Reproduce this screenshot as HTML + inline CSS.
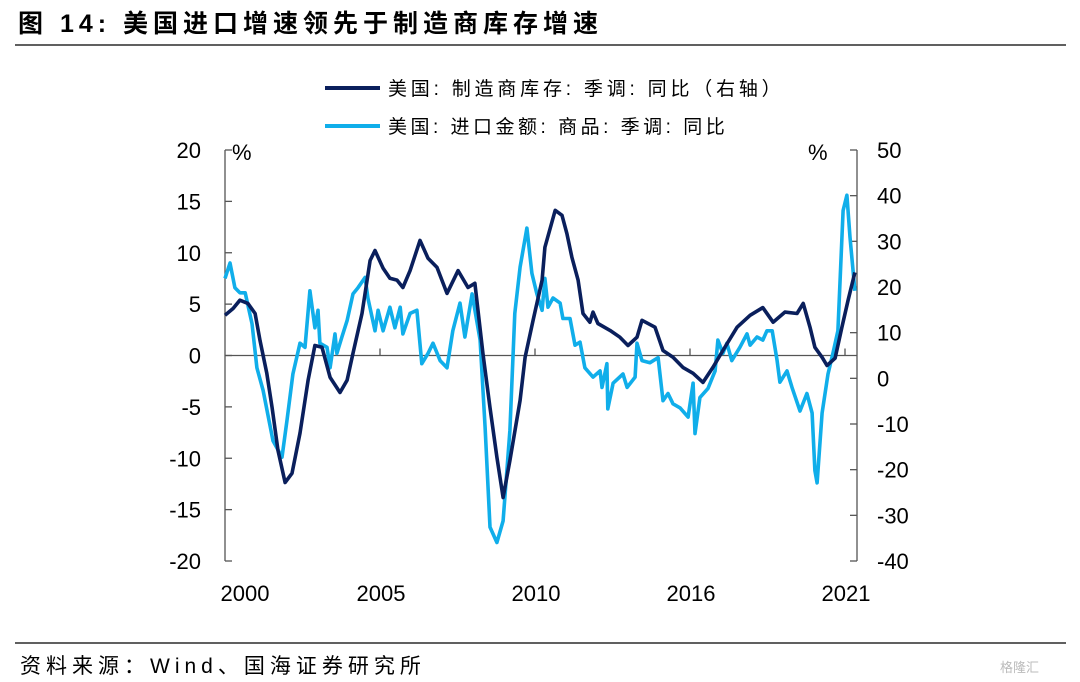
<!DOCTYPE html>
<html><head><meta charset="utf-8"><style>
body{margin:0;background:#fff;}
svg{display:block;font-family:"Liberation Sans","Noto Sans CJK SC",sans-serif;}
</style></head><body>
<svg id="chart" width="1080" height="682" viewBox="0 0 1080 682" xmlns="http://www.w3.org/2000/svg">
<text x="18" y="32" font-size="25" font-weight="bold" fill="#000" letter-spacing="5">图 14:  美国进口增速领先于制造商库存增速</text>
<line x1="15" y1="45" x2="1066" y2="45" stroke="#000" stroke-width="1.2"/>
<g>
<line x1="325" y1="88" x2="380" y2="88" stroke="#0a1f5c" stroke-width="4"/>
<text x="388" y="95" font-size="19" letter-spacing="3.8">美国: 制造商库存: 季调: 同比（右轴）</text>
<line x1="325" y1="126" x2="380" y2="126" stroke="#10aeea" stroke-width="4"/>
<text x="388" y="133" font-size="19" letter-spacing="3.5">美国: 进口金额: 商品: 季调: 同比</text>
</g>
<g id="axes"></g>
<g id="series"></g>
<line x1="15" y1="643" x2="1066" y2="643" stroke="#000" stroke-width="1.2"/>
<text x="20" y="673" font-size="21" letter-spacing="5">资料来源：Wind、国海证券研究所</text>
<text x="1000" y="672" font-size="13" fill="#bbb">格隆汇</text>
</svg>
<script>
const leftTicks=[20,15,10,5,0,-5,-10,-15,-20];
const rightTicks=[50,40,30,20,10,0,-10,-20,-30,-40];
const xTickYears=[2000,2005,2010,2015,2020];
const xTickLabels=["2000","2005","2010","2016","2021"];
const invDates=[2000.00,2000.26,2000.48,2000.74,2000.97,2001.13,2001.35,2001.52,2001.71,2001.94,2002.16,2002.42,2002.68,2002.90,2003.13,2003.39,2003.71,2003.94,2004.13,2004.42,2004.68,2004.84,2005.10,2005.32,2005.55,2005.74,2005.97,2006.29,2006.55,2006.84,2007.16,2007.52,2007.84,2008.06,2008.32,2008.55,2008.77,2008.97,2009.19,2009.52,2009.68,2009.94,2010.23,2010.32,2010.65,2010.87,2011.03,2011.19,2011.39,2011.55,2011.77,2011.87,2012.03,2012.42,2012.74,2013.00,2013.29,2013.45,2013.87,2014.13,2014.45,2014.77,2015.10,2015.42,2015.74,2016.06,2016.52,2016.94,2017.35,2017.68,2018.06,2018.45,2018.65,2018.87,2019.03,2019.26,2019.42,2019.68,2019.90,2020.10,2020.32];
const invValues=[13.8,15.3,17.1,16.4,14.2,8.3,1.1,-6.4,-15.8,-22.8,-20.8,-12.0,-0.4,7.2,6.8,0.2,-3.1,-0.4,5.5,14.2,25.8,28.0,24.1,21.9,21.5,19.9,23.6,30.2,26.3,24.3,18.6,23.6,19.9,20.8,5.5,-6.4,-17.3,-26.1,-18.0,-4.8,4.6,12.7,21.5,28.7,36.8,35.7,31.7,26.5,21.5,14.2,12.3,14.5,12.0,10.5,9.0,7.2,9.0,12.7,11.2,6.1,4.6,2.4,1.1,-0.9,2.4,6.1,11.2,13.8,15.5,12.3,14.5,14.2,16.4,11.2,6.8,4.6,2.8,4.4,11.2,17.1,23.2];
const impDates=[2000.00,2000.16,2000.32,2000.48,2000.65,2000.87,2001.03,2001.23,2001.55,2001.84,2002.00,2002.19,2002.42,2002.58,2002.74,2002.90,2003.00,2003.06,2003.29,2003.39,2003.55,2003.61,2003.77,2003.94,2004.13,2004.29,2004.52,2004.61,2004.84,2004.94,2005.10,2005.32,2005.48,2005.65,2005.74,2005.97,2006.19,2006.35,2006.55,2006.71,2006.94,2007.16,2007.35,2007.58,2007.74,2007.97,2008.23,2008.39,2008.55,2008.77,2008.97,2009.19,2009.35,2009.52,2009.74,2009.90,2010.06,2010.23,2010.32,2010.42,2010.58,2010.81,2010.90,2011.13,2011.29,2011.45,2011.61,2011.87,2012.10,2012.16,2012.32,2012.35,2012.52,2012.84,2012.97,2013.23,2013.29,2013.45,2013.71,2013.97,2014.13,2014.29,2014.45,2014.68,2014.94,2015.10,2015.16,2015.32,2015.58,2015.81,2015.90,2016.06,2016.19,2016.35,2016.61,2016.84,2016.94,2017.16,2017.35,2017.48,2017.65,2017.81,2017.90,2018.13,2018.29,2018.55,2018.77,2018.94,2019.03,2019.10,2019.26,2019.45,2019.61,2019.77,2019.94,2020.06,2020.16,2020.32];
const impValues=[7.5,9.0,6.6,6.1,6.1,3.1,-1.2,-3.4,-8.3,-9.9,-6.3,-1.8,1.2,0.8,6.3,2.7,4.4,1.2,0.8,-1.2,2.1,0.2,1.8,3.4,6.0,6.6,7.6,5.6,2.4,4.4,2.4,4.7,2.7,4.7,2.1,4.1,4.4,-0.8,0.2,1.2,-0.5,-1.2,2.4,5.1,1.8,6.0,1.5,-7.0,-16.7,-18.2,-16.1,-7.3,4.1,8.6,12.4,8.0,6.0,4.4,7.5,4.7,5.6,5.1,3.6,3.6,1.0,1.3,-1.2,-2.1,-1.5,-3.1,-0.8,-5.2,-2.7,-1.8,-3.1,-2.1,1.2,-0.5,-0.7,-0.2,-4.4,-3.7,-4.7,-5.1,-6.0,-2.7,-7.6,-4.1,-3.2,-1.5,1.5,0.2,1.2,-0.5,0.8,2.1,1.0,1.8,1.5,2.4,2.4,-0.5,-2.6,-1.5,-3.1,-5.4,-3.7,-5.6,-11.2,-12.4,-5.6,-1.8,0.2,2.4,14.1,15.6,11.5,6.3];

const NS="http://www.w3.org/2000/svg";
const X0=225,X1=857,YT=150,YB=561;
const xs=d=>X0+(d-2000)*31;
const yL=v=>YT+(20-v)*(YB-YT)/40;
const yR=v=>YT+(50-v)*(YB-YT)/90;
function mk(tag,attrs,parent,text){const e=document.createElementNS(NS,tag);for(const k in attrs)e.setAttribute(k,attrs[k]);if(text!==undefined)e.textContent=text;parent.appendChild(e);return e;}
const axes=document.getElementById('axes');
let e;
e=mk('line',{x1:X0,y1:YT,x2:X0,y2:YB,stroke:'#555','stroke-width':1.3},axes);


e=mk('line',{x1:X1,y1:YT,x2:X1,y2:YB,stroke:'#555','stroke-width':1.3},axes);


e=mk('line',{x1:X0,y1:yL(0),x2:X1,y2:yL(0),stroke:'#555','stroke-width':1.3},axes);


leftTicks.forEach(v=>{
  e=mk('line',{x1:X0,y1:yL(v),x2:X0+7,y2:yL(v),stroke:'#555','stroke-width':1.3},axes);
  
  
  e=mk('text',{x:201,y:yL(v)+8,'text-anchor':'end','font-size':22},axes,String(v));
  
  
});
rightTicks.forEach(v=>{
  e=mk('line',{x1:X1-7,y1:yR(v),x2:X1,y2:yR(v),stroke:'#555','stroke-width':1.3},axes);
  
  
  e=mk('text',{x:877,y:yR(v)+8,'text-anchor':'start','font-size':22},axes,String(v));
  
  
});
xTickYears.forEach((yr,i)=>{
  const x=xs(yr);
  if(i>0){
    e=mk('line',{x1:x,y1:yL(0)-7,x2:x,y2:yL(0),stroke:'#555','stroke-width':1.3},axes);
    
    
  }
  e=mk('text',{x:i===0?x+20:x+1,y:601,'text-anchor':'middle','font-size':22},axes,xTickLabels[i]);
  
  
});
e=mk('text',{x:232,y:160,'font-size':22},axes,'%');


e=mk('text',{x:808,y:160,'font-size':22},axes,'%');



const series=document.getElementById('series');
const impPts=impDates.map((d,i)=>xs(d).toFixed(1)+','+yL(impValues[i]).toFixed(1)).join(' ');
e=mk('polyline',{points:impPts,fill:'none',stroke:'#10aeea','stroke-width':3.6,'stroke-linejoin':'round'},series);


const invPts=invDates.map((d,i)=>xs(d).toFixed(1)+','+yR(invValues[i]).toFixed(1)).join(' ');
e=mk('polyline',{points:invPts,fill:'none',stroke:'#0a1f5c','stroke-width':3.6,'stroke-linejoin':'round'},series);


</script>
</body></html>
